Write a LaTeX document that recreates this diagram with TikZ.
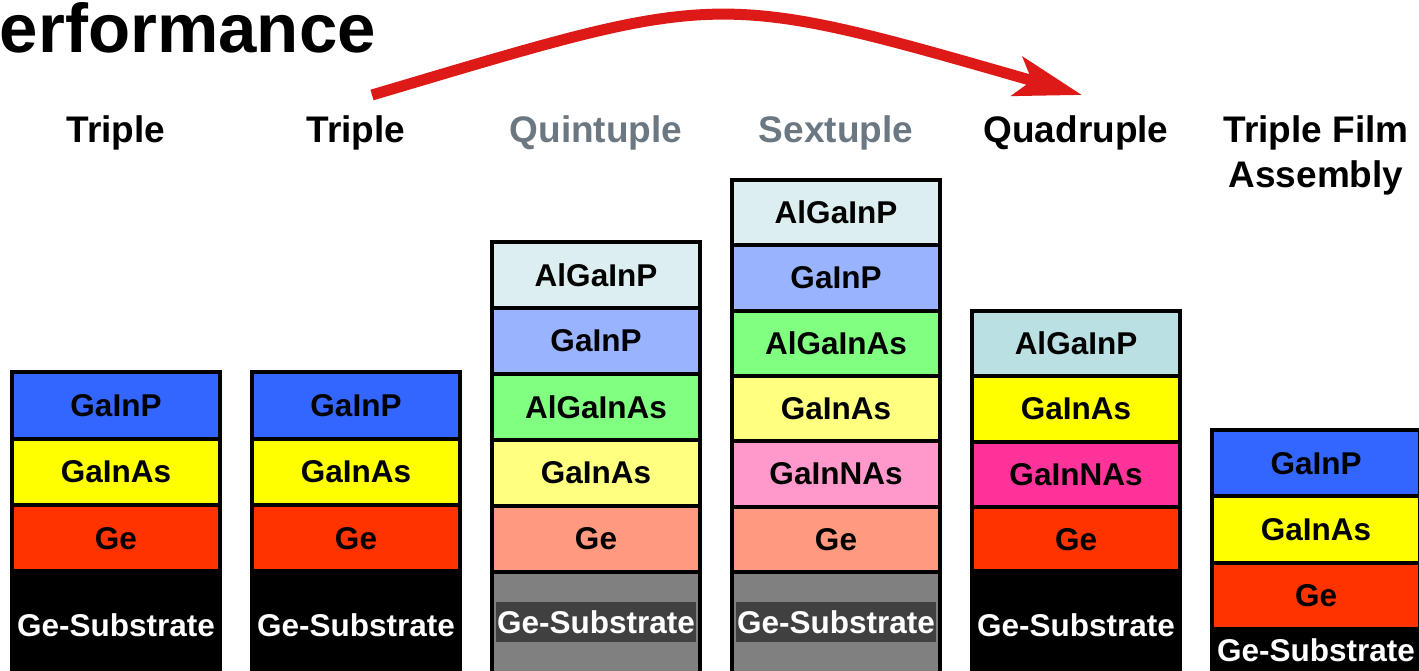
\documentclass[tikz,border=0pt]{standalone}
\usepackage{fontspec}
\setmainfont{Liberation Sans}
\usetikzlibrary{arrows.meta}

\definecolor{blueA}{HTML}{3366FF}
\definecolor{yellowA}{HTML}{FFFF00}
\definecolor{redA}{HTML}{FF3300}
\definecolor{cyanB}{HTML}{DDEEF0}
\definecolor{blueB}{HTML}{99B3FF}
\definecolor{greenB}{HTML}{80FF80}
\definecolor{yellowB}{HTML}{FFFF80}
\definecolor{pinkB}{HTML}{FF99CC}
\definecolor{redB}{HTML}{FF9980}
\definecolor{grayB}{HTML}{808080}
\definecolor{grayC}{HTML}{404040}
\definecolor{cyanC}{HTML}{BBE0E3}
\definecolor{pinkC}{HTML}{FF3399}
\definecolor{headgray}{HTML}{6B7882}
\definecolor{arrowred}{HTML}{DD1A18}

\tikzset{
	layer/.style={draw=black, line width=4pt, minimum width=208pt, inner sep=0pt,
		font=\bfseries\fontsize{31.5}{36}\selectfont},
	subst/.style={layer, fill=black, text=white, minimum height=108pt},
	sublabel/.style={fill=grayC, text=white, inner xsep=1pt, inner ysep=8pt,
		font=\bfseries\fontsize{31.5}{36}\selectfont},
	head/.style={anchor=base, inner sep=0pt, align=center,
		font=\bfseries\fontsize{37}{45}\selectfont},
}

\begin{document}
\begin{tikzpicture}[x=1pt,y=-1pt]
			\useasboundingbox (0,0) rectangle (1419,670);
			\clip (0,0) rectangle (1419,670);
			\node[anchor=base east, inner sep=0pt, font=\bfseries\fontsize{69}{80}\selectfont] (title) at (376,52) {Performance};

			% triple junction cells on Ge
			\foreach \lay/\clr [count=\i] in {GaInP/blueA, GaInAs/yellowA, Ge/redA}
				\node[layer, fill=\clr, minimum height=66.7pt] (tA-\i) at (116,{372+66.7*(\i-0.5)}) {\lay};
			\node[subst] (tA-sub) at (116,625) {Ge-Substrate};
			\node[head] (tA-head) at (116,142) {Triple};

			\foreach \lay/\clr [count=\i] in {GaInP/blueA, GaInAs/yellowA, Ge/redA}
				\node[layer, fill=\clr, minimum height=66.7pt] (tB-\i) at (356,{372+66.7*(\i-0.5)}) {\lay};
			\node[subst] (tB-sub) at (356,625) {Ge-Substrate};
			\node[head] (tB-head) at (356,142) {Triple};

			% five and six junctions
			\foreach \lay/\clr [count=\i] in {AlGaInP/cyanB, GaInP/blueB, AlGaInAs/greenB, GaInAs/yellowB, Ge/redB}
				\node[layer, fill=\clr, minimum height=66pt] (qu-\i) at (596,{242+66*(\i-0.5)}) {\lay};
			\node[subst, fill=grayB] (qu-sub) at (596,626) {};
			\node[sublabel] (qu-lbl) at (596,622) {Ge-Substrate};
			\node[head, text=headgray] (qu-head) at (596,142) {Quintuple};

			\foreach \lay/\clr [count=\i] in {AlGaInP/cyanB, GaInP/blueB, AlGaInAs/greenB, GaInAs/yellowB, GaInNAs/pinkB, Ge/redB}
				\node[layer, fill=\clr, minimum height=65.3pt] (sx-\i) at (836,{180+65.3*(\i-0.5)}) {\lay};
			\node[subst, fill=grayB] (sx-sub) at (836,626) {};
			\node[sublabel] (sx-lbl) at (836,622) {Ge-Substrate};
			\node[head, text=headgray] (sx-head) at (836,142) {Sextuple};

			% four junctions
			\foreach \lay/\clr [count=\i] in {AlGaInP/cyanC, GaInAs/yellowA, GaInNAs/pinkC, Ge/redA}
				\node[layer, fill=\clr, minimum height=65.3pt] (qd-\i) at (1076,{311+65.3*(\i-0.5)}) {\lay};
			\node[subst] (qd-sub) at (1076,625) {Ge-Substrate};
			\node[head] (qd-head) at (1076,142) {Quadruple};

			% thin film
			\foreach \lay/\clr [count=\i] in {GaInP/blueA, GaInAs/yellowA, Ge/redA}
				\node[layer, fill=\clr, minimum height=66.3pt] (tf-\i) at (1316,{430+66.3*(\i-0.5)}) {\lay};
			\node[subst, minimum height=42pt] (tf-sub) at (1316,650) {Ge-Substrate};
			\node[head] (tf-head) at (1316,187) {Triple Film\\Assembly};

			\coordinate (arrS) at (372,95);
			\coordinate (arrE) at (1082,95);
			\draw[arrowred, line width=11pt, -{Stealth[length=67pt,width=40pt,inset=15pt]}] (arrS) .. controls (723,-9) and (710,-12) .. (arrE);
		\end{tikzpicture}
\end{document}
